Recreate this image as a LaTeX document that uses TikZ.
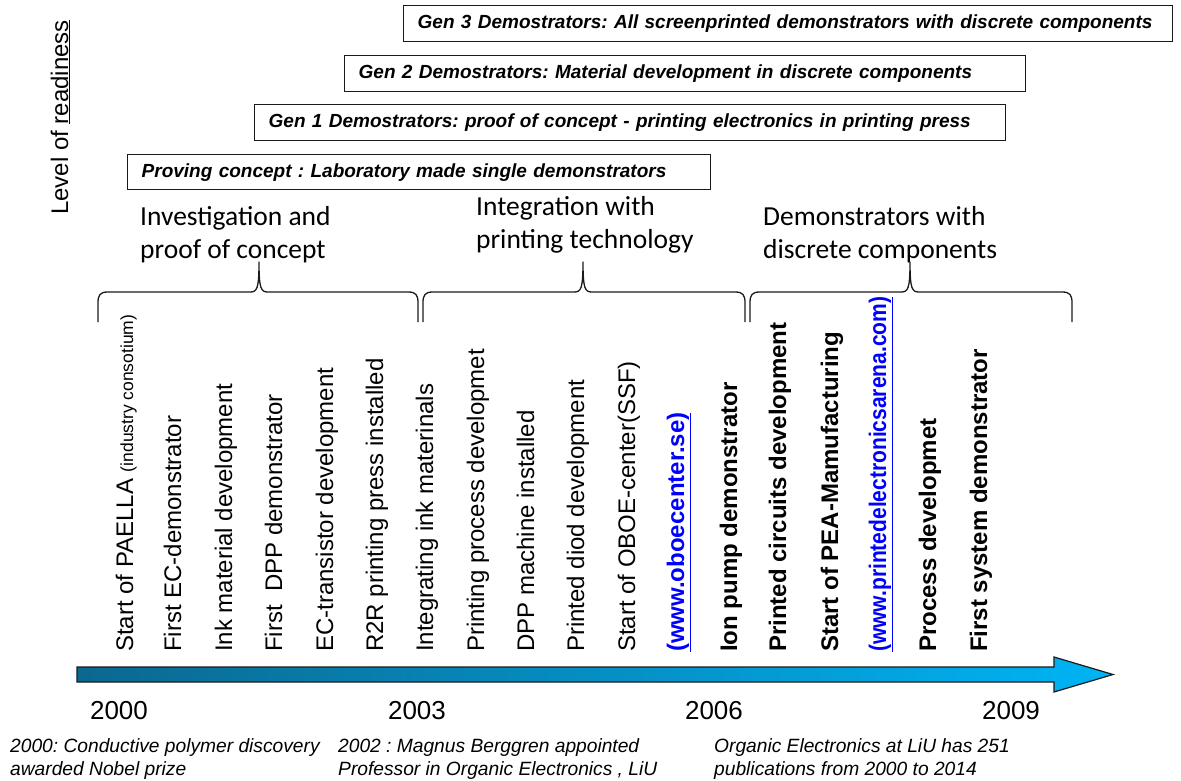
\documentclass[tikz,border=0pt]{standalone}
\usepackage{fontspec}
\setmainfont{Liberation Sans}
\newfontfamily\calfont{Carlito}
\definecolor{arrowdark}{HTML}{0B6890}
\definecolor{arrowlight}{HTML}{00B4F5}
\definecolor{linkblue}{HTML}{0000FF}
\definecolor{inkline}{HTML}{1A1A1A}
\frenchspacing

\begin{document}
\begin{tikzpicture}[x=1pt,y=-1pt,
  genbox/.style={draw=inkline, line width=1.4pt, anchor=north west,
    minimum height=36pt, inner xsep=14pt, inner ysep=0pt, align=left,
    font=\fontsize{19}{22}\selectfont\bfseries\itshape},
  heading/.style={anchor=base west, inner sep=0pt, align=left,
    font=\calfont\fontsize{27.5}{33}\selectfont},
  event/.style={rotate=90, anchor=base west, inner sep=0pt,
    font=\fontsize{24}{28}\selectfont},
  eventb/.style={event, font=\fontsize{24}{28}\selectfont\bfseries},
  eventlink/.style={eventb, text=linkblue},
  year/.style={anchor=base, inner sep=0pt, font=\fontsize{26}{28}\selectfont},
  note/.style={anchor=base west, inner sep=0pt, align=left,
    font=\fontsize{19.2}{23}\selectfont\itshape},
  bracestyle/.style={draw=inkline, line width=1.3pt, line join=round}
]
\useasboundingbox (0,0) rectangle (1181,781);

% axis label
\node[event] (level) at (68,215) {Level of \underline{readiness}};

% demonstrator generations
\node[genbox, text width=741pt] (gen3) at (403,5)
  {Gen 3 Demostrators: All screenprinted demonstrators with discrete components};
\node[genbox, text width=653pt] (gen2) at (344,55)
  {Gen 2 Demostrators: Material development in discrete components};
\node[genbox, text width=723pt] (gen1) at (254,104)
  {Gen 1 Demostrators: proof of concept - printing electronics in printing press};
\node[genbox, text width=555pt, minimum height=35pt] (gen0) at (127,154)
  {Proving concept : Laboratory made single demonstrators};

% phase headings (anchored on the baseline of their last line)
\node[heading] (phase1) at (140,258) {Investigation and\\proof of concept};
\node[heading] (phase2) at (476,248) {Integration with\\printing technology};
\node[heading] (phase3) at (763,258) {Demonstrators with\\discrete components};

% phase braces
\foreach \xa/\xm/\xb in {98/259/418, 423/583/745, 750/910/1072} {
  \draw[bracestyle] (\xa,322) -- (\xa,303)
    .. controls (\xa,295) and (\xa+2,292) .. (\xa+10,292)
    -- (\xm-9,292)
    .. controls (\xm-2,292) and (\xm,289) .. (\xm,262)
    .. controls (\xm,289) and (\xm+2,292) .. (\xm+9,292)
    -- (\xb-10,292)
    .. controls (\xb-2,292) and (\xb,295) .. (\xb,303)
    -- (\xb,322);
}

% events
\node[event] (e01) at (133,652) {Start of PAELLA {\fontsize{17.5}{20}\selectfont(industry consotium)}};
\node[event] (e02) at (181,652) {First EC-demonstrator};
\node[event] (e03) at (232,652) {Ink material development};
\node[event] (e04) at (282,652) {First\ \ DPP demonstrator};
\node[event] (e05) at (333,652) {EC-transistor development};
\node[event] (e06) at (383,652) {R2R printing press installed};
\node[event] (e07) at (433,652) {Integrating ink materinals};
\node[event] (e08) at (484,652) {Printing process developmet};
\node[event] (e09) at (534,652) {DPP machine installed};
\node[event] (e10) at (584,652) {Printed diod development};
\node[event] (e11) at (635,652) {Start of OBOE-center(SSF)};
\node[eventlink] (e12) at (684,652) {\underline{(www.oboecenter.se)}};
\node[eventb] (e13) at (737,652) {Ion pump demonstrator};
\node[eventb] (e14) at (786,652) {Printed circuits development};
\node[eventb] (e15) at (838,652) {Start of PEA-Mamufacturing};
\node[eventlink] (e16) at (886,652) {\scalebox{0.875}[1]{\underline{(www.printedelectronicsarena.com)}}};
\node[eventb] (e17) at (936,652) {Process developmet};
\node[eventb] (e18) at (987,652) {First system demonstrator};

% time axis
\shadedraw[left color=arrowdark, right color=arrowlight, draw=inkline, line width=1.2pt, line join=miter]
  (77,667) -- (1054,667) -- (1054,657) -- (1113,674.5) -- (1054,692)
  -- (1054,682) -- (77,682) -- cycle;

\node[year] (y2000) at (119,719) {2000};
\node[year] (y2003) at (417,719) {2003};
\node[year] (y2006) at (714,719) {2006};
\node[year] (y2009) at (1011,719) {2009};

% footnotes (anchored on the baseline of their last line)
\node[note] (n1) at (10,775) {2000: Conductive polymer discovery\\awarded Nobel prize};
\node[note] (n2) at (338,775) {2002 : Magnus Berggren appointed\\Professor in Organic Electronics , LiU};
\node[note] (n3) at (714,775) {Organic Electronics at LiU has 251\\publications from 2000 to 2014};
\end{tikzpicture}
\end{document}
